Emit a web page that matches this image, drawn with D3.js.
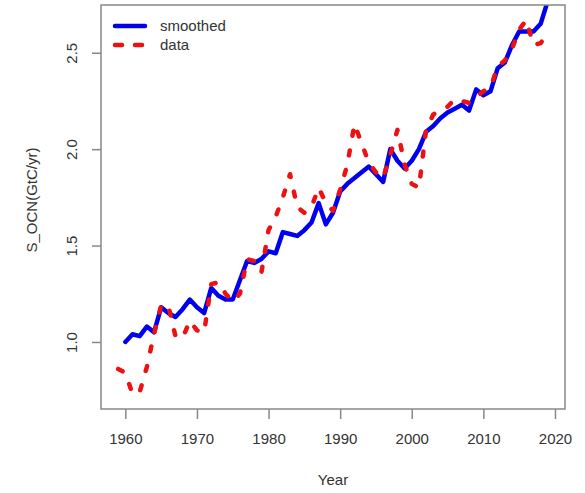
<!DOCTYPE html>
<html>
<head>
<meta charset="utf-8">
<script src="https://cdn.jsdelivr.net/npm/d3@7"></script>
<style>
  html, body { margin: 0; padding: 0; background: #fff; }
  text { font-family: "Liberation Sans", Arial, Helvetica, sans-serif; fill: #333; }
</style>
</head>
<body>
<svg id="chart" width="585" height="493"></svg>
<script>
// Ocean carbon sink, annual values and smoothed curve (GtC/yr)
const dataYears = d3.range(1959, 2020);
const dataValues = [
  0.86, 0.84, 0.73, 0.74, 0.87, 1.04, 1.19, 1.19, 1.03, 1.02,
  1.11, 1.06, 1.05, 1.30, 1.31, 1.25, 1.21, 1.25, 1.43, 1.42,
  1.36, 1.58, 1.65, 1.75, 1.87, 1.70, 1.67, 1.70, 1.80, 1.72,
  1.68, 1.79, 1.92, 2.13, 2.03, 1.93, 1.88, 1.85, 1.97, 2.10,
  1.92, 1.82, 1.80, 2.10, 2.18, 2.20, 2.22, 2.26, 2.25, 2.24,
  2.27, 2.30, 2.32, 2.43, 2.46, 2.52, 2.62, 2.67, 2.54, 2.55,
  2.60
];

const smoothYears = d3.range(1960, 2020);
const smoothValues = [
  1.00, 1.04, 1.03, 1.08, 1.05, 1.18, 1.15, 1.13, 1.17, 1.22,
  1.18, 1.15, 1.28, 1.24, 1.22, 1.22, 1.32, 1.42, 1.41, 1.43,
  1.47, 1.46, 1.57, 1.56, 1.55, 1.58, 1.62, 1.72, 1.61, 1.67,
  1.78, 1.82, 1.85, 1.88, 1.91, 1.87, 1.83, 2.00, 1.94, 1.90,
  1.94, 2.00, 2.09, 2.12, 2.16, 2.19, 2.21, 2.23, 2.20, 2.31,
  2.28, 2.30, 2.42, 2.45, 2.54, 2.61, 2.61, 2.61, 2.65, 2.77
];

const xTicks = [1960, 1970, 1980, 1990, 2000, 2010, 2020];
const yTicks = [1.0, 1.5, 2.0, 2.5];
const seriesNames = ["smoothed", "data"];

const svg = d3.select("#chart");
const plot = { left: 101, right: 565, top: 5, bottom: 409 };

// axis ranges padded by 4% of the data span on each side
const xExt = d3.extent(dataYears);
const xPad = (xExt[1] - xExt[0]) * 0.04;
const yExt = d3.extent(dataValues);
const yPad = (yExt[1] - yExt[0]) * 0.04;

const x = d3.scaleLinear().domain([xExt[0] - xPad, xExt[1] + xPad]).range([plot.left, plot.right]);
const y = d3.scaleLinear().domain([yExt[0] - yPad, yExt[1] + yPad]).range([plot.bottom, plot.top]);

svg.append("rect").attr("width", 585).attr("height", 493).attr("fill", "#fff");

svg.append("clipPath").attr("id", "plotClip")
  .append("rect")
  .attr("x", plot.left).attr("y", plot.top)
  .attr("width", plot.right - plot.left).attr("height", plot.bottom - plot.top);

const lines = svg.append("g").attr("clip-path", "url(#plotClip)");

const line = d3.line().x(d => x(d[0])).y(d => y(d[1]));

lines.append("path")
  .datum(smoothYears.map((yr, i) => [yr, smoothValues[i]]))
  .attr("d", line)
  .attr("fill", "none")
  .attr("stroke", "#0000ee")
  .attr("stroke-width", 4.5)
  .attr("stroke-linejoin", "round")
  .attr("stroke-linecap", "round");

lines.append("path")
  .datum(dataYears.map((yr, i) => [yr, dataValues[i]]))
  .attr("d", line)
  .attr("fill", "none")
  .attr("stroke", "#ee1111")
  .attr("stroke-width", 4.5)
  .attr("stroke-dasharray", "5,15")
  .attr("stroke-linejoin", "round")
  .attr("stroke-linecap", "round");

// frame
svg.append("rect")
  .attr("x", plot.left).attr("y", plot.top)
  .attr("width", plot.right - plot.left).attr("height", plot.bottom - plot.top)
  .attr("fill", "none").attr("stroke", "#888").attr("stroke-width", 1.5);

// x axis
const xAxis = d3.axisBottom(x).tickValues(xTicks).tickSize(10).tickPadding(14).tickFormat(d3.format("d"));
const gx = svg.append("g").attr("transform", `translate(0,${plot.bottom})`).call(xAxis);
gx.select(".domain").remove();
gx.selectAll(".tick line").attr("stroke", "#888").attr("stroke-width", 1.5);
gx.selectAll(".tick text").attr("font-size", 15).style("fill", "#333")
  .attr("font-family", "Liberation Sans, Arial, sans-serif");

// y axis with labels parallel to the axis
const yAxis = d3.axisLeft(y).tickValues(yTicks).tickSize(9).tickFormat(d3.format(".1f"));
const gy = svg.append("g").attr("transform", `translate(${plot.left},0)`).call(yAxis);
gy.select(".domain").remove();
gy.selectAll(".tick line").attr("stroke", "#888").attr("stroke-width", 1.5);
gy.selectAll(".tick text")
  .attr("x", null).attr("dy", null)
  .attr("text-anchor", "middle")
  .attr("transform", "translate(-29,0) rotate(-90)")
  .attr("dy", "0.35em")
  .attr("font-size", 15).style("fill", "#333")
  .attr("font-family", "Liberation Sans, Arial, sans-serif");

// axis titles
svg.append("text")
  .attr("x", (plot.left + plot.right) / 2).attr("y", 480)
  .attr("text-anchor", "middle").attr("dy", "0.35em")
  .attr("font-size", 15).text("Year");

svg.append("text")
  .attr("transform", "translate(32,200) rotate(-90)")
  .attr("text-anchor", "middle").attr("dy", "0.35em")
  .attr("font-size", 15).text("S_OCN(GtC/yr)");

// legend
const legend = svg.append("g");
const legendStyles = [
  { color: "#0000ee", dash: null },
  { color: "#ee1111", dash: "7,13" }
];
seriesNames.forEach((name, i) => {
  const ly = 26 + i * 19;
  legend.append("line")
    .attr("x1", 115).attr("x2", 145).attr("y1", ly).attr("y2", ly)
    .attr("stroke", legendStyles[i].color).attr("stroke-width", 4.5)
    .attr("stroke-linecap", "round")
    .attr("stroke-dasharray", legendStyles[i].dash);
  legend.append("text")
    .attr("x", 160).attr("y", ly).attr("dy", "0.35em")
    .attr("font-size", 15).text(name);
});
</script>
</body>
</html>
